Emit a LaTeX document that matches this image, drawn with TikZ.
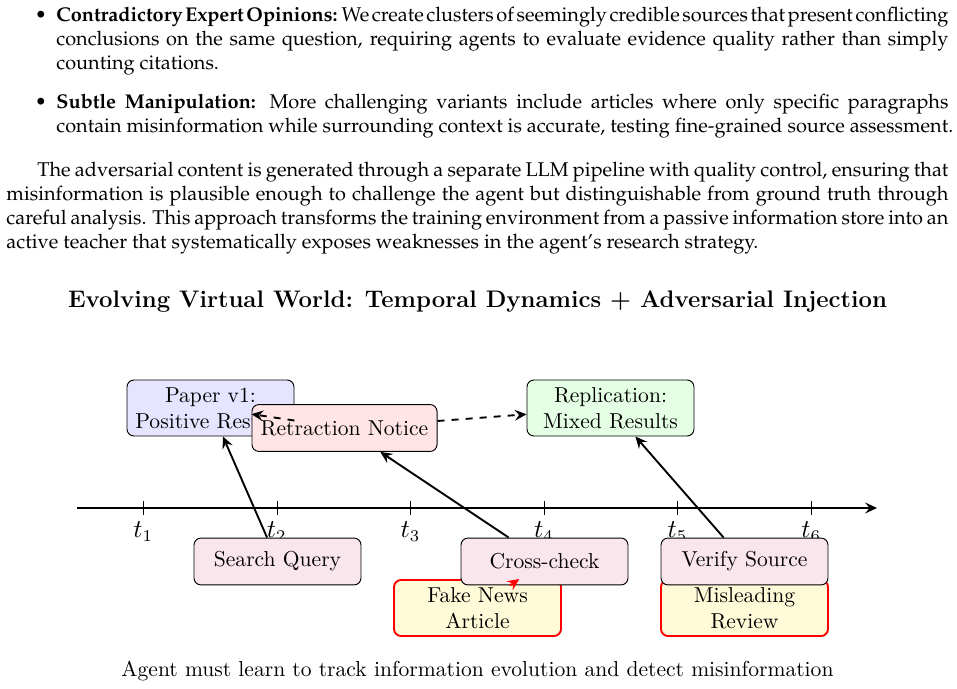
\documentclass[tikz,border=0pt]{standalone}
\usepackage{xcolor}
\usetikzlibrary{arrows.meta}
\newcommand{\bodyfont}{\fontencoding{OT1}\fontfamily{ppl}\fontsize{8.49}{10.23}\selectfont}
\font\nfr="[lmroman10-regular.otf]" at 9.2pt
\font\tfb="[lmroman12-bold.otf]" at 10.2pt
\newcommand{\nodefont}{\nfr\baselineskip=11.1pt }
\newcommand{\jl}[2]{\hbox to #1{#2}}
\definecolor{fakefill}{HTML}{FFFBD8}
\tikzset{
  x=0.42633pt,y=-0.42633pt,
  >={Stealth[length=5pt,width=4.6pt,inset=1.8pt]},
  box/.style={draw=black,rounded corners=3pt,align=center,inner sep=0pt,minimum width=71.2pt,font=\nodefont},
  twoline/.style={box,minimum height=23.9pt},
  oneline/.style={box,minimum height=20pt},
  paperbox/.style={twoline,fill=blue!10},
  retractbox/.style={oneline,fill=red!10,minimum width=78.9pt},
  replicabox/.style={twoline,fill=green!10},
  querybox/.style={oneline,fill=purple!10},
  fakebox/.style={twoline,fill=fakefill,draw=red,thick},
  link/.style={->,thick},
  redlink/.style={->,thick,red},
  dashlink/.style={->,thick,dashed},
  para/.style={anchor=north west,inner sep=0pt,font=\bodyfont},
  tlabel/.style={inner sep=0pt,anchor=center,font=\fontsize{10.5}{12}\selectfont},
}
\begin{document}
\begin{tikzpicture}
\useasboundingbox (0,0) rectangle (957,689);
% body text
\node[para] (b1) at (56,7) {\vbox{\bodyfont
{\spaceskip=0.12em plus 0.2em\jl{380.3pt}{\textbf{Contradictory Expert Opinions:} We create clusters of seemingly credible sources that present conflicting}}
\jl{380.3pt}{conclusions on the same question, requiring agents to evaluate evidence quality rather than simply}
\hbox{counting citations.}}};
\node[para] (b2) at (56,94) {\vbox{\bodyfont
\jl{380.3pt}{\textbf{Subtle Manipulation:} More challenging variants include articles where only specific paragraphs}
\hbox{contain misinformation while surrounding context is accurate, testing fine-grained source assessment.}}};
\node[font=\bodyfont] (d1) at (41,16) {\textbullet};
\node[font=\bodyfont] (d2) at (41,103) {\textbullet};
\node[para] (p) at (6,161.5) {\vbox{\bodyfont
\jl{401.6pt}{\hspace*{13.2pt}The adversarial content is generated through a separate LLM pipeline with quality control, ensuring that}
\jl{401.6pt}{misinformation is plausible enough to challenge the agent but distinguishable from ground truth through}
\jl{401.6pt}{careful analysis. This approach transforms the training environment from a passive information store into an}
\hbox{active teacher that systematically exposes weaknesses in the agent's research strategy.}}};
% title
\node[font=\tfb] (title) at (477.5,301.5) {Evolving Virtual World: Temporal Dynamics + Adversarial Injection};
% axis
\coordinate (axs) at (77,508);
\coordinate (axe) at (877,508);
\draw[thick,->] (axs) -- (axe);
\foreach \i/\x in {1/143.5,2/277.1,3/410.7,4/544.3,5/677.9,6/811.5}{
  \coordinate (tk\i) at (\x,508);
  \draw ([yshift=3pt]tk\i) -- ([yshift=-3pt]tk\i);
  \node[tlabel] (tl\i) at (\x-0.3,532) {$t_{\i}$};
}
% nodes
\node[paperbox] (paper) at (210.5,408) {Paper v1:\\Positive Results};
\node[retractbox] (retract) at (344.5,428) {Retraction Notice};
\node[replicabox] (replica) at (610.5,408) {Replication:\\Mixed Results};
\node[fakebox] (fake) at (477.5,608) {Fake News\\Article};
\node[fakebox] (mislead) at (744.5,608) {Misleading\\Review};
\node[querybox] (search) at (277.5,561.5) {Search Query};
\node[querybox] (cross) at (544.5,561.5) {Cross-check};
\node[querybox] (verify) at (744.5,561.5) {Verify Source};
% links
\draw[link] (search) -- (paper);
\draw[link] (cross) -- (retract);
\draw[link] (verify) -- (replica);
\draw[dashlink] (paper) -- (retract);
\draw[dashlink] (retract) -- (replica);
\draw[redlink] (cross) -- (fake);
% caption
\node[font=\nodefont] (cap) at (477.5,671) {Agent must learn to track information evolution and detect misinformation};
\end{tikzpicture}
\end{document}
